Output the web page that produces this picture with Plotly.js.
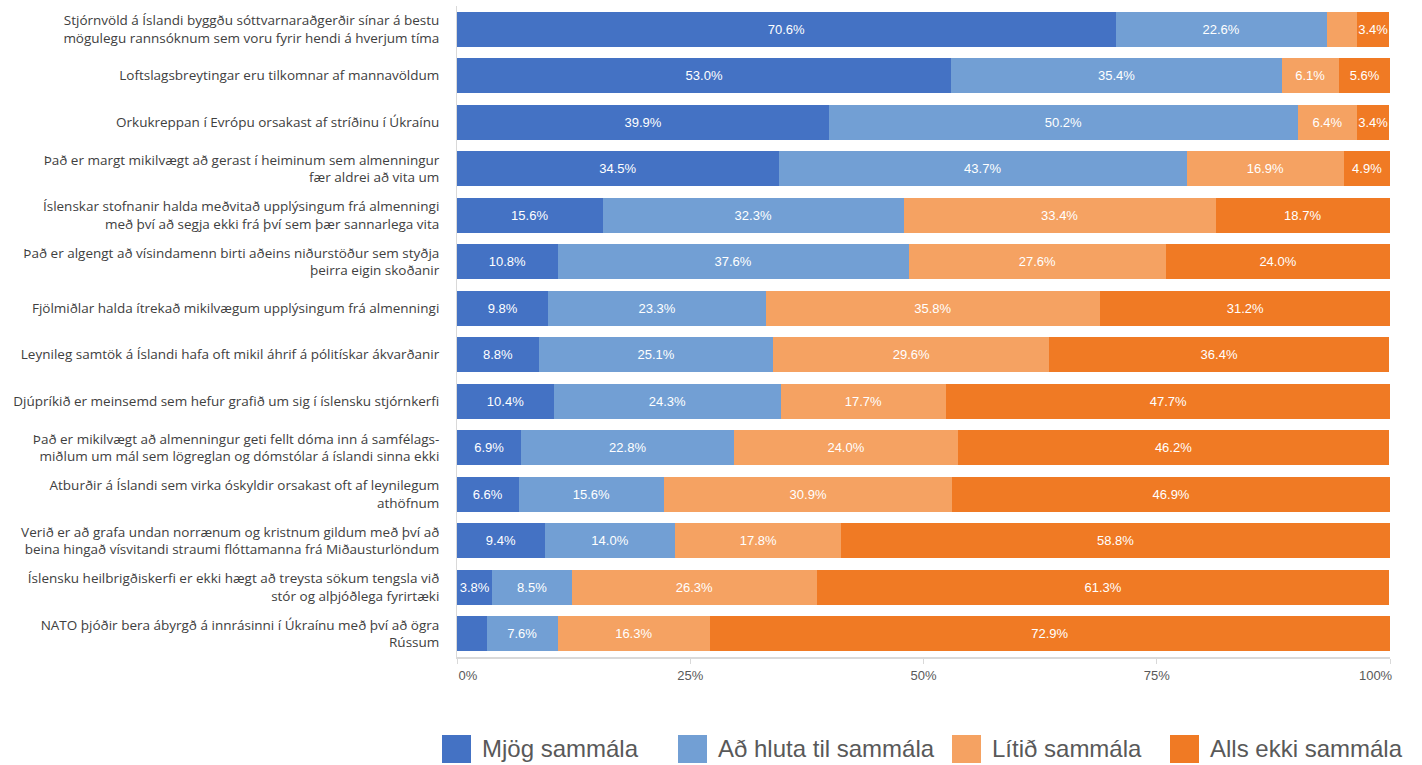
<!DOCTYPE html>
<html>
<head>
<meta charset="utf-8">
<script src="https://cdn.plot.ly/plotly-3.0.1.min.js"></script>
<style>
  html, body { margin: 0; padding: 0; background: #fff; }
  #chart { width: 1422px; height: 765px; }
</style>
</head>
<body>
<div id="chart"></div>
<script>
// ---------- DATA ----------
const categories = [
  "Stjórnvöld á Íslandi byggðu sóttvarnaraðgerðir sínar á bestu<br>mögulegu rannsóknum sem voru fyrir hendi á hverjum tíma",
  "Loftslagsbreytingar eru tilkomnar af mannavöldum",
  "Orkukreppan í Evrópu orsakast af stríðinu í Úkraínu",
  "Það er margt mikilvægt að gerast í heiminum sem almenningur<br>fær aldrei að vita um",
  "Íslenskar stofnanir halda meðvitað upplýsingum frá almenningi<br>með því að segja ekki frá því sem þær sannarlega vita",
  "Það er algengt að vísindamenn birti aðeins niðurstöður sem styðja<br>þeirra eigin skoðanir",
  "Fjölmiðlar halda ítrekað mikilvægum upplýsingum frá almenningi",
  "Leynileg samtök á Íslandi hafa oft mikil áhrif á pólitískar ákvarðanir",
  "Djúpríkið er meinsemd sem hefur grafið um sig í íslensku stjórnkerfi",
  "Það er mikilvægt að almenningur geti fellt dóma inn á samfélags-<br>miðlum um mál sem lögreglan og dómstólar á íslandi sinna ekki",
  "Atburðir á Íslandi sem virka óskyldir orsakast oft af leynilegum<br>athöfnum",
  "Verið er að grafa undan norrænum og kristnum gildum með því að<br>beina hingað vísvitandi straumi flóttamanna frá Miðausturlöndum",
  "Íslensku heilbrigðiskerfi er ekki hægt að treysta sökum tengsla við<br>stór og alþjóðlega fyrirtæki",
  "NATO þjóðir bera ábyrgð á innrásinni í Úkraínu með því að ögra<br>Rússum"
];

const seriesNames = ["Mjög sammála", "Að hluta til sammála", "Lítið sammála", "Alls ekki sammála"];

const mjogSammala     = [70.6, 53.0, 39.9, 34.5, 15.6, 10.8,  9.8,  8.8, 10.4,  6.9,  6.6,  9.4,  3.8,  3.2];
const adHlutaSammala  = [22.6, 35.4, 50.2, 43.7, 32.3, 37.6, 23.3, 25.1, 24.3, 22.8, 15.6, 14.0,  8.5,  7.6];
const litidSammala    = [ 3.3,  6.1,  6.4, 16.9, 33.4, 27.6, 35.8, 29.6, 17.7, 24.0, 30.9, 17.8, 26.3, 16.3];
const allsEkkiSammala = [ 3.4,  5.6,  3.4,  4.9, 18.7, 24.0, 31.2, 36.4, 47.7, 46.2, 46.9, 58.8, 61.3, 72.9];

const xTickVals = [0, 25, 50, 75, 100];
const xTickText = ["0%", "25%", "50%", "75%", "100%"];

// ---------- STYLE ----------
const colors = ["#4472C4", "#729FD4", "#F5A262", "#F07A24"];
const seriesValues = [mjogSammala, adHlutaSammala, litidSammala, allsEkkiSammala];
const LABEL_MIN = 3.4; // smaller segments carry no label in the reference

const W = 1422, H = 765;
const M = { l: 457, r: 32, t: 6, b: 108 };
const plotW = W - M.l - M.r, plotH = H - M.t - M.b;
const px2x = px => (px - M.l) / plotW;
const py2y = py => (H - M.b - py) / plotH;

const NB = "\u00A0";
const tickTextPadded = xTickText.map((t, i) =>
  i === 0 ? NB.repeat(6) + t : (i === xTickText.length - 1 ? t + NB.repeat(8) : t));

const traces = seriesNames.map((name, i) => ({
  type: "bar",
  orientation: "h",
  name: name,
  y: categories,
  x: seriesValues[i],
  text: seriesValues[i].map(v => v >= LABEL_MIN ? v.toFixed(1) + "%" : ""),
  textposition: "inside",
  insidetextanchor: "middle",
  textangle: 0,
  constraintext: "none",
  textfont: { family: "Liberation Sans, Arial, sans-serif", size: 13, color: "#ffffff" },
  marker: { color: colors[i], line: { width: 0 } },
  hoverinfo: "name+x",
  showlegend: false
}));

// custom legend (large square swatches like the reference)
const legendSwatchX = [442, 678, 952, 1170];
const swW = 29, swTop = 735, swBot = 763;
const shapes = seriesNames.map((n, i) => ({
  type: "rect", xref: "paper", yref: "paper",
  x0: px2x(legendSwatchX[i]), x1: px2x(legendSwatchX[i] + swW),
  y0: py2y(swBot), y1: py2y(swTop),
  fillcolor: colors[i], line: { width: 0 }
}));
const annotations = seriesNames.map((n, i) => ({
  text: n, xref: "paper", yref: "paper",
  x: px2x(legendSwatchX[i] + swW + 9), y: py2y((swTop + swBot) / 2),
  xanchor: "left", yanchor: "middle", showarrow: false,
  font: { family: "Liberation Sans, Arial, sans-serif", size: 24, color: "#595959" }
}));

const layout = {
  width: W, height: H,
  margin: M,
  paper_bgcolor: "#ffffff",
  plot_bgcolor: "#ffffff",
  barmode: "stack",
  bargap: 0.245,
  showlegend: false,
  xaxis: {
    range: [0, 100],
    tickvals: xTickVals,
    ticktext: tickTextPadded,
    showgrid: false,
    zeroline: false,
    showline: true,
    linecolor: "#d9d9d9",
    linewidth: 2,
    ticks: "outside",
    ticklen: 5,
    tickcolor: "#d9d9d9",
    tickwidth: 1,
    tickfont: { family: "Liberation Sans, Arial, sans-serif", size: 13, color: "#595959" },
    fixedrange: true
  },
  yaxis: {
    autorange: "reversed",
    showgrid: false,
    zeroline: false,
    showline: true,
    linecolor: "#d9d9d9",
    linewidth: 1,
    ticks: "",
    ticklabelstandoff: 14,
    tickfont: { family: "Open Sans, sans-serif", size: 13.5, color: "#404040" },
    fixedrange: true
  },
  shapes: shapes,
  annotations: annotations
};

Plotly.newPlot("chart", traces, layout, { displayModeBar: false, staticPlot: true });
</script>
</body>
</html>
